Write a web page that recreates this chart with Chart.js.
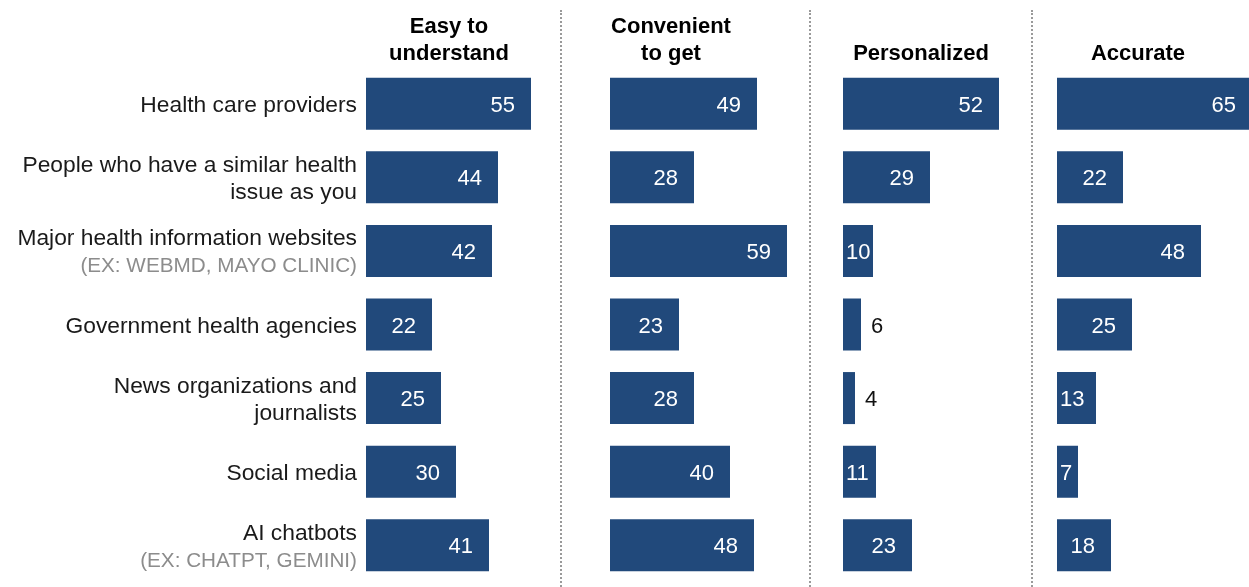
<!DOCTYPE html>
<html>
<head>
<meta charset="utf-8">
<script src="https://cdn.jsdelivr.net/npm/chart.js@4"></script>
<style>
  html, body { margin: 0; padding: 0; background: #fff; overflow: hidden; }
  #wrap { position: relative; width: 1249px; height: 587px; }
  canvas { position: absolute; top: 0; }
  .sep { position: absolute; top: 10px; height: 577px; border-left: 2px dotted #9a9a9a; }
</style>
</head>
<body>
<div id="wrap">
  <canvas id="c0" width="561" height="587" style="left:0px"></canvas>
  <canvas id="c1" width="200" height="587" style="left:610px"></canvas>
  <canvas id="c2" width="200" height="587" style="left:843px"></canvas>
  <canvas id="c3" width="200" height="587" style="left:1057px"></canvas>
  <div class="sep" style="left:560px"></div>
  <div class="sep" style="left:809px"></div>
  <div class="sep" style="left:1031px"></div>
</div>
<script>
const categories = [
  ["Health care providers"],
  ["People who have a similar health", "issue as you"],
  ["Major health information websites"],
  ["Government health agencies"],
  ["News organizations and", "journalists"],
  ["Social media"],
  ["AI chatbots"]
];
const examples = [null, null, "(EX: WEBMD, MAYO CLINIC)", null, null, null, "(EX: CHATPT, GEMINI)"];

const easyToUnderstand = [55, 44, 42, 22, 25, 30, 41];
const convenientToGet = [49, 28, 59, 23, 28, 40, 48];
const personalized = [52, 29, 10, 6, 4, 11, 23];
const accurate = [65, 22, 48, 25, 13, 7, 18];

const panelTitles = [["Easy to", "understand"], ["Convenient", "to get"], ["Personalized"], ["Accurate"]];

const BLUE = "#21497b";
const FONT = "'Liberation Sans', Arial, sans-serif";

// value labels: white inside the bar, black just past it for tiny bars
const valueLabels = {
  id: "valueLabels",
  afterDatasetsDraw(chart) {
    const ctx = chart.ctx;
    const meta = chart.getDatasetMeta(0);
    const data = chart.data.datasets[0].data;
    ctx.save();
    ctx.font = "22px " + FONT;
    ctx.textBaseline = "alphabetic";
    meta.data.forEach((bar, i) => {
      const v = data[i];
      const txt = String(v);
      const w = ctx.measureText(txt).width;
      const y = bar.y + 8;
      if (v < 7) {
        ctx.fillStyle = "#111";
        ctx.textAlign = "left";
        ctx.fillText(txt, bar.x + 10, y);
      } else {
        ctx.fillStyle = "#fff";
        ctx.textAlign = "right";
        ctx.fillText(txt, Math.max(bar.x - 16, bar.base + 3 + w), y);
      }
    });
    ctx.restore();
  }
};

// panel heading above the bars
const panelTitle = {
  id: "panelTitle",
  afterDraw(chart, args, opts) {
    const ctx = chart.ctx;
    const lines = opts.lines;
    ctx.save();
    ctx.font = "bold 22px " + FONT;
    ctx.fillStyle = "#000";
    ctx.textAlign = "center";
    const cx = chart.chartArea.left + opts.offset;
    lines.forEach((t, k) => {
      ctx.fillText(t, cx, 60 - (lines.length - 1 - k) * 27);
    });
    ctx.restore();
  }
};

// category names on the left of the first panel
const categoryLabels = {
  id: "categoryLabels",
  afterDraw(chart, args, opts) {
    if (!opts.show) return;
    const ctx = chart.ctx;
    const yScale = chart.scales.y;
    const right = chart.chartArea.left - 9;
    ctx.save();
    ctx.textAlign = "right";
    categories.forEach((lines, i) => {
      const all = lines.slice();
      if (examples[i]) all.push(examples[i]);
      const cy = yScale.getPixelForValue(i);
      const top = cy - (all.length - 1) * 27 / 2;
      all.forEach((t, k) => {
        const isEx = examples[i] && k === all.length - 1;
        ctx.font = (isEx ? "20.7px " : "22.8px ") + FONT;
        ctx.fillStyle = isEx ? "#8c8c8c" : "#1a1a1a";
        ctx.fillText(t, right, top + k * 27 + 8);
      });
    });
    ctx.restore();
  }
};

function makePanel(id, values, idx, titleOffset, leftPad) {
  const canvas = document.getElementById(id);
  const areaWidth = canvas.width - leftPad;
  return new Chart(canvas, {
    type: "bar",
    data: {
      labels: categories.map(c => c.join(" ")),
      datasets: [{
        data: values,
        backgroundColor: BLUE,
        borderWidth: 0,
        categoryPercentage: 1,
        barPercentage: 0.707
      }]
    },
    options: {
      indexAxis: "y",
      responsive: false,
      animation: false,
      devicePixelRatio: 1,
      layout: { padding: { left: leftPad, right: 0, top: 67, bottom: 5 } },
      scales: {
        x: { display: false, min: 0, max: areaWidth / 3 },
        y: { display: false }
      },
      plugins: {
        legend: { display: false },
        tooltip: { enabled: false },
        panelTitle: { lines: panelTitles[idx], offset: titleOffset },
        categoryLabels: { show: idx === 0 }
      }
    },
    plugins: [valueLabels, panelTitle, categoryLabels]
  });
}

makePanel("c0", easyToUnderstand, 0, 83, 366);
makePanel("c1", convenientToGet, 1, 61, 0);
makePanel("c2", personalized, 2, 78, 0);
makePanel("c3", accurate, 3, 81, 0);
</script>
</body>
</html>
